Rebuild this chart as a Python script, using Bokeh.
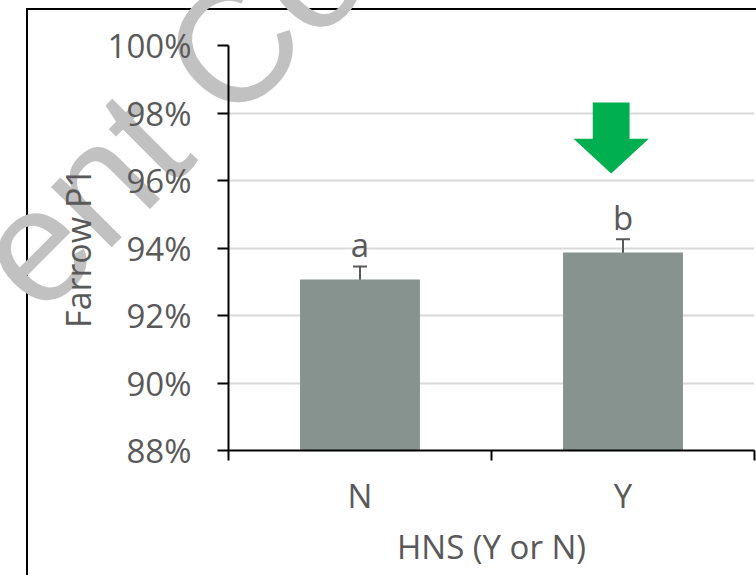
from bokeh.plotting import figure
from bokeh.models import (Range1d, FixedTicker, NumeralTickFormatter, Whisker, TeeHead,
                          ColumnDataSource, Div)
from bokeh.layouts import column
from bokeh.core.properties import value
from bokeh.embed import file_html
from bokeh.resources import INLINE

# ---- data ----
categories = ["N", "Y"]
farrow_p1 = [0.9307, 0.9387]
std_err = [0.0038, 0.0039]
sig_letters = ["a", "b"]
y_ticks = [0.88, 0.90, 0.92, 0.94, 0.96, 0.98, 1.00]
highlight_category = "Y"
watermark_text = "ent Con"

# ---- styles / layout ----
TEXT_COLOR = "#595959"
BAR_COLOR = "#87938F"
FONT = "Open Sans"
FS = "33px"
W, H = 756, 575
FL, FR, FT, FB = 228, 754, 45, 450   # frame edges in canvas pixels

xs = [i + 0.5 for i in range(len(categories))]
lower = [v - e for v, e in zip(farrow_p1, std_err)]
upper = [v + e for v, e in zip(farrow_p1, std_err)]
src = ColumnDataSource(dict(x=xs, top=farrow_p1, lower=lower, upper=upper, sig=sig_letters))

x0, x1 = 0, len(categories)
y0, y1 = y_ticks[0], y_ticks[-1]

# background layer: chart border + watermark (behind the transparent plot)
BL, BT = 21, 3              # border left/top
WX, WY, WFS = 35, 314, 162  # watermark baseline start, font size
base = round(WFS * 0.846)
bg_html = (
    f'<div style="position:absolute;left:{BL}px;top:{BT}px;width:{W - BL}px;height:{H - BT}px;'
    'box-sizing:border-box;border-left:2px solid black;border-top:2px solid black;"></div>'
    f'<div style="position:absolute;left:{WX}px;top:{WY - base}px;white-space:nowrap;'
    f'font-family:\'Liberation Sans\';font-size:{WFS}px;line-height:{WFS}px;color:#c1c1c1;'
    f'transform-origin:0px {base}px;transform:rotate(-45deg);">{watermark_text}</div>'
)
bg = Div(text=bg_html, width=W, height=H,
         styles={"position": "absolute", "top": "0px", "left": "0px", "z-index": "0",
                 "overflow": "visible"})

p = figure(width=W, height=H,
           x_range=Range1d(x0, x1), y_range=Range1d(y0, y1),
           output_backend="svg", toolbar_location=None,
           min_border_left=FL, min_border_right=W - FR,
           min_border_top=FT, min_border_bottom=H - FB)
p.styles = {"position": "relative", "z-index": "1"}
p.outline_line_color = None
p.background_fill_color = None
p.border_fill_color = None

# bars
p.vbar(x="x", top="top", bottom=0, width=0.456, source=src,
       fill_color=BAR_COLOR, line_color=None)

# error bars
wh = Whisker(base="x", lower="lower", upper="upper", source=src,
             line_color="#595959", line_width=2,
             upper_head=TeeHead(size=14, line_color="#595959", line_width=2),
             lower_head=TeeHead(size=14, line_color="#595959", line_width=2))
p.add_layout(wh)

# significance letters
p.text(x="x", y="upper", text="sig", source=src, text_align="center",
       text_baseline="alphabetic", y_offset=-22,
       text_font=value(FONT), text_font_size=FS, text_color=TEXT_COLOR)

# green arrow above highlighted category
hi = categories.index(highlight_category)
cx = xs[hi] - 0.045
head_half, shaft_half = 0.143, 0.070
a_top, a_neck, a_tip = 0.9831, 0.9724, 0.9621
p.patch(x=[cx - shaft_half, cx + shaft_half, cx + shaft_half, cx + head_half, cx,
           cx - head_half, cx - shaft_half],
        y=[a_top, a_top, a_neck, a_neck, a_tip, a_neck, a_neck],
        fill_color="#00B050", line_color=None)

# grid
p.xgrid.grid_line_color = None
p.ygrid.grid_line_color = "#d9d9d9"
p.ygrid.grid_line_width = 2
p.ygrid.ticker = FixedTicker(ticks=y_ticks)

# y axis
ya = p.yaxis[0]
ya.ticker = FixedTicker(ticks=y_ticks)
ya.formatter = NumeralTickFormatter(format="0%")
ya.axis_label = "Farrow P1"
ya.axis_line_color = "black"
ya.axis_line_width = 2
ya.major_tick_line_color = "black"
ya.major_tick_line_width = 2
ya.major_tick_out = 11
ya.major_tick_in = 0
ya.minor_tick_line_color = None
ya.major_label_standoff = 26
ya.axis_label_standoff = 4
ya.major_label_text_font = FONT
ya.major_label_text_font_size = FS
ya.major_label_text_color = TEXT_COLOR
ya.axis_label_text_font = FONT
ya.axis_label_text_font_size = "34px"
ya.axis_label_text_color = TEXT_COLOR
ya.axis_label_text_font_style = "normal"

# x axis
xa = p.xaxis[0]
xa.ticker = FixedTicker(ticks=xs, minor_ticks=list(range(len(categories) + 1)))
xa.major_label_overrides = {x: c for x, c in zip(xs, categories)}
xa.axis_label = "HNS (Y or N)"
xa.axis_line_color = "black"
xa.axis_line_width = 2
xa.major_tick_line_color = None
xa.major_tick_out = 10
xa.major_tick_in = 0
xa.minor_tick_line_color = "black"
xa.minor_tick_line_width = 2
xa.minor_tick_out = 10
xa.minor_tick_in = 0
xa.major_label_standoff = 12
xa.axis_label_standoff = 3
xa.major_label_text_font = FONT
xa.major_label_text_font_size = FS
xa.major_label_text_color = TEXT_COLOR
xa.axis_label_text_font = FONT
xa.axis_label_text_font_size = FS
xa.axis_label_text_color = TEXT_COLOR
xa.axis_label_text_font_style = "normal"

layout = column(bg, p, spacing=0)
open("out.html", "w").write(file_html(layout, INLINE))
